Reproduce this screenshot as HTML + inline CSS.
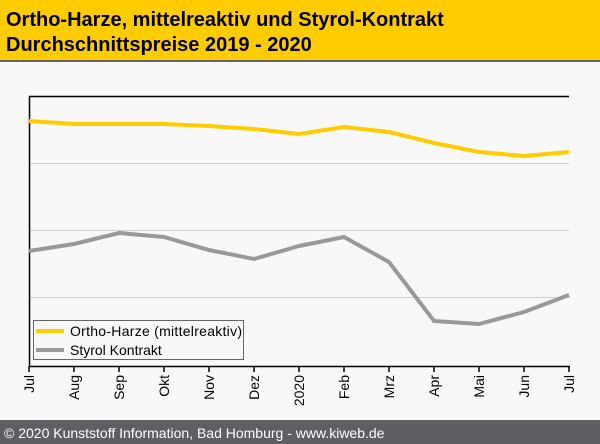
<!DOCTYPE html>
<html><head><style>html,body{margin:0;width:600px;height:444px;overflow:hidden;background:#f8f8f8;font-family:"Liberation Sans",sans-serif}svg{display:block}</style></head><body>
<svg width="600" height="444" xmlns="http://www.w3.org/2000/svg" font-family="Liberation Sans, sans-serif">
<rect width="600" height="444" fill="#f8f8f8"/>
<rect width="600" height="60" fill="#ffcc00"/>
<rect y="60" width="600" height="2" fill="#666"/>
<text x="6" y="26" font-size="20" font-weight="bold" fill="#000">Ortho-Harze, mittelreaktiv und Styrol-Kontrakt</text>
<text x="6" y="51" font-size="20" font-weight="bold" fill="#000">Durchschnittspreise 2019 - 2020</text>
<g stroke="#d0d0d0" stroke-width="1"><line x1="29" x2="569" y1="163.5" y2="163.5"/><line x1="29" x2="569" y1="230.5" y2="230.5"/><line x1="29" x2="569" y1="297.5" y2="297.5"/></g>
<path d="M29.5 366V96.5H569" fill="none" stroke="#000" stroke-width="1.5"/>
<line x1="29" x2="570" y1="366.5" y2="366.5" stroke="#000" stroke-width="1.5"/>
<polyline fill="none" stroke="#ffcc00" stroke-width="4" points="29,121 74,124 119,124 164,124 209,126 254,129 299,134 344,127 389,132 434,143 479,152 524,156 569,152"/>
<polyline fill="none" stroke="#999" stroke-width="4" points="29,251 74,244 119,233 164,237 209,250 254,259 299,246 344,237 389,262 434,321 479,324 524,312 569,295"/>
<g stroke="#000" stroke-width="1.5">
<line x1="29" x2="29" y1="366" y2="372"/><line x1="74" x2="74" y1="366" y2="372"/><line x1="119" x2="119" y1="366" y2="372"/><line x1="164" x2="164" y1="366" y2="372"/><line x1="209" x2="209" y1="366" y2="372"/><line x1="254" x2="254" y1="366" y2="372"/><line x1="299" x2="299" y1="366" y2="372"/><line x1="344" x2="344" y1="366" y2="372"/><line x1="389" x2="389" y1="366" y2="372"/><line x1="434" x2="434" y1="366" y2="372"/><line x1="479" x2="479" y1="366" y2="372"/><line x1="524" x2="524" y1="366" y2="372"/><line x1="569" x2="569" y1="366" y2="372"/></g>
<g font-size="14" fill="#000" text-anchor="end">
<text transform="translate(34,375) rotate(-90)">Jul</text>
<text transform="translate(79,375) rotate(-90)">Aug</text>
<text transform="translate(124,375) rotate(-90)">Sep</text>
<text transform="translate(169,375) rotate(-90)">Okt</text>
<text transform="translate(214,375) rotate(-90)">Nov</text>
<text transform="translate(259,375) rotate(-90)">Dez</text>
<text transform="translate(304,375) rotate(-90)">2020</text>
<text transform="translate(349,375) rotate(-90)">Feb</text>
<text transform="translate(394,375) rotate(-90)">Mrz</text>
<text transform="translate(439,375) rotate(-90)">Apr</text>
<text transform="translate(484,375) rotate(-90)">Mai</text>
<text transform="translate(529,375) rotate(-90)">Jun</text>
<text transform="translate(574,375) rotate(-90)">Jul</text>
</g>
<rect x="33.5" y="320.5" width="210" height="39" fill="#f8f8f8" stroke="#666"/>
<line x1="36" x2="64" y1="331" y2="331" stroke="#ffcc00" stroke-width="4"/>
<line x1="36" x2="64" y1="350" y2="350" stroke="#999" stroke-width="4"/>
<text x="70" y="336" font-size="14" fill="#000" textLength="172">Ortho-Harze (mittelreaktiv)</text>
<text x="70" y="355" font-size="14" fill="#000">Styrol Kontrakt</text>
<rect y="420" width="600" height="24" fill="#5e5e63"/>
<text x="4" y="438" font-size="14" fill="#fff">© 2020 Kunststoff Information, Bad Homburg - www.kiweb.de</text>
</svg>
</body></html>
